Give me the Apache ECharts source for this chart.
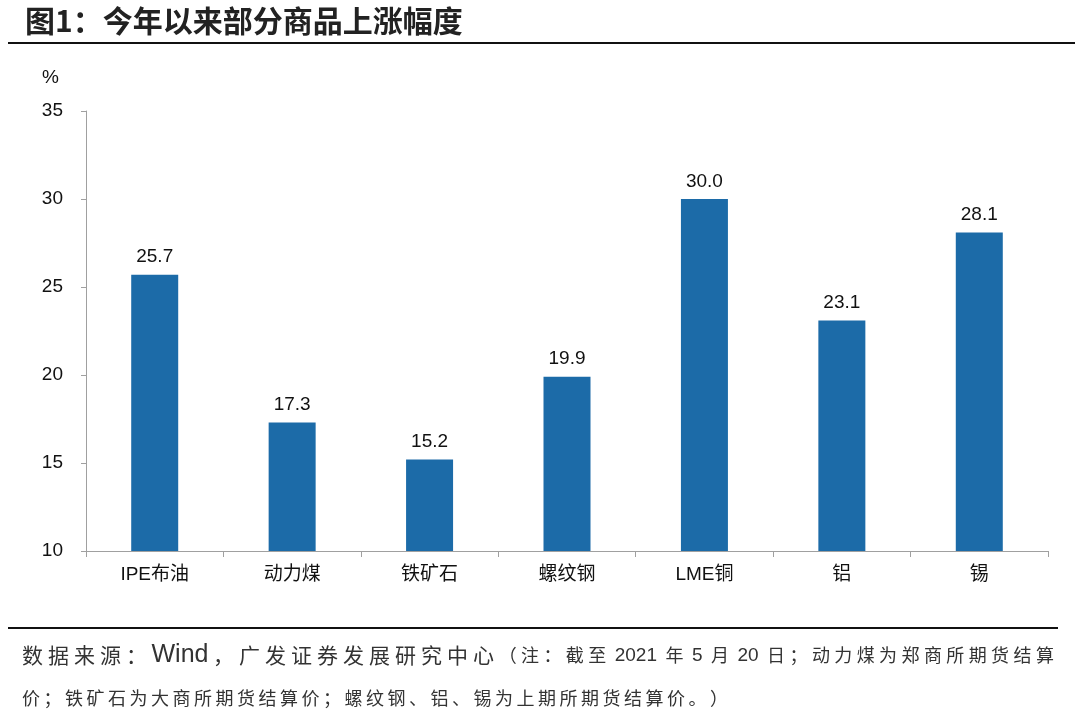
<!DOCTYPE html>
<html><head><meta charset="utf-8">
<script src="https://cdn.jsdelivr.net/npm/echarts@6/dist/echarts.min.js"></script>
<style>html,body{margin:0;padding:0;background:#fff}#c{width:1080px;height:723px}</style>
</head><body><div id="c"></div>
<script>
const categories = ['IPE布油','动力煤','铁矿石','螺纹钢','LME铜','铝','锡'];
const values = [25.7, 17.3, 15.2, 19.9, 30.0, 23.1, 28.1];
const yMin = 10, yMax = 35, yStep = 5;

const titleText = '图1：今年以来部分商品上涨幅度';
const srcPrefix = '数据来源：';
const srcWind = 'Wind';
const srcOrg = '，广发证券发展研究中心';
const noteLine1 = '（注：截至 2021 年 5 月 20 日；动力煤为郑商所期货结算';
const noteLine2 = '价；铁矿石为大商所期货结算价；螺纹钢、铝、锡为上期所期货结算价。）';

// split text into rich tokens: CJK chars individually (spaced), latin runs grouped
function spaced(str, cjkStyle, latStyle) {
  let out = '';
  const parts = str.match(/[A-Za-z0-9 .]+|[^A-Za-z0-9 .]/g) || [];
  parts.forEach(p => {
    if (/^[A-Za-z0-9 .]+$/.test(p)) out += '{' + latStyle + '|' + p + '}';
    else out += '{' + cjkStyle + '|' + p + '}';
  });
  return out;
}

const CJK = '"Liberation Sans", Arial, "Noto Sans CJK SC", sans-serif';
const NCJK = '"Noto Sans CJK SC", sans-serif';
const chart = echarts.init(document.getElementById('c'));
chart.setOption({
  animation: false,
  backgroundColor: '#fff',
  grid: {left: 86, right: 32, top: 111, bottom: 172},
  xAxis: {
    type: 'category', data: categories,
    axisLine: {lineStyle: {color: '#a0a0a0', width: 1}},
    axisTick: {show: true, length: 6, lineStyle: {color: '#a0a0a0'}},
    axisLabel: {color: '#111', fontSize: 19, fontFamily: CJK, margin: 14}
  },
  yAxis: {
    type: 'value', min: yMin, max: yMax, interval: yStep,
    axisLine: {show: true, lineStyle: {color: '#a0a0a0', width: 1}},
    axisTick: {show: true, length: 5, lineStyle: {color: '#a0a0a0'}},
    splitLine: {show: false},
    axisLabel: {color: '#111', fontSize: 19, fontFamily: CJK, margin: 23}
  },
  series: [{
    type: 'bar', data: values, barWidth: 47,
    itemStyle: {color: '#1c6ba8'},
    label: {show: true, position: 'top', distance: 8, color: '#111', fontSize: 19,
      fontFamily: CJK, formatter: p => p.value.toFixed(1)}
  }],
  graphic: [
    {type: 'text', left: 25, top: 6, style: {text: titleText, fontSize: 30, fontWeight: 'bold',
      fontFamily: NCJK, fill: '#222'}},
    {type: 'line', shape: {x1: 8, y1: 43, x2: 1075, y2: 43}, style: {stroke: '#111', lineWidth: 2}},
    {type: 'text', left: 42, top: 68, style: {text: '%', fontSize: 19, fontFamily: CJK, fill: '#111'}},
    {type: 'line', shape: {x1: 8, y1: 628, x2: 1058, y2: 628}, style: {stroke: '#111', lineWidth: 2}},
    {type: 'text', left: 22, top: 643, style: {
      text: spaced(srcPrefix, 'a', 'b') + '{w|' + srcWind + '}' + spaced(srcOrg, 'a', 'b') + spaced(noteLine1, 'c', 'd'),
      rich: {
        a: {fontSize: 21, fontFamily: NCJK, fill: '#333', padding: [0, 2.5, 0, 2.5]},
        w: {fontSize: 25, fontFamily: '"Liberation Sans", Arial, sans-serif', fill: '#333', padding: [0, 2, 0, 2]},
        b: {fontSize: 21, fontFamily: '"Liberation Sans", Arial, sans-serif', fill: '#333'},
        c: {fontSize: 18, fontFamily: NCJK, fill: '#333', padding: [0, 2.2, 0, 2.2]},
        d: {fontSize: 19, fontFamily: '"Liberation Sans", Arial, sans-serif', fill: '#333', padding: [0, 1, 0, 1]}
      }}},
    {type: 'text', left: 22, top: 689, style: {
      text: spaced(noteLine2, 'c', 'd'),
      rich: {
        c: {fontSize: 18, fontFamily: NCJK, fill: '#333', padding: [0, 1.75, 0, 1.75]},
        d: {fontSize: 19, fontFamily: '"Liberation Sans", Arial, sans-serif', fill: '#333'}
      }}}
  ]
});
</script></body></html>
